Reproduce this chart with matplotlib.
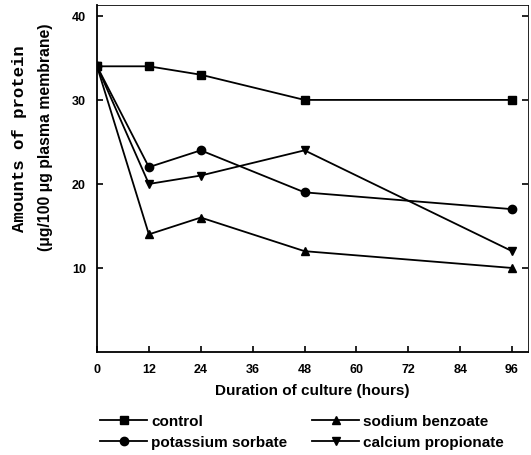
import matplotlib
matplotlib.use("Agg")
import matplotlib.pyplot as plt

# data
hours = [0, 12, 24, 48, 96]
control = [34, 34, 33, 30, 30]
potassium_sorbate = [34, 22, 24, 19, 17]
sodium_benzoate = [34, 14, 16, 12, 10]
calcium_propionate = [34, 20, 21, 24, 12]

xticks = [0, 12, 24, 36, 48, 60, 72, 84, 96]
yticks = [10, 20, 30, 40]

plt.rcParams['font.family'] = ['Liberation Sans', 'DejaVu Sans']
plt.rcParams['font.weight'] = 'bold'

fig = plt.figure(figsize=(5.31, 4.56), dpi=100)
ax = fig.add_axes([0.1827, 0.2259, 0.8117, 0.761])

kw = dict(color='black', lw=1.3, ms=6)
ax.plot(hours, control, marker='s', label='control', **kw)
ax.plot(hours, potassium_sorbate, marker='o', label='potassium sorbate', **kw)
ax.plot(hours, sodium_benzoate, marker='^', label='sodium benzoate', **kw)
ax.plot(hours, calcium_propionate, marker='v', label='calcium propionate', **kw)

ax.set_xlim(0, 99.7)
ax.set_ylim(0, 41.3)
ax.set_xticks(xticks)
ax.set_yticks(yticks)
ax.tick_params(direction='in', length=4, width=1.2, labelsize=9)
ax.tick_params(axis='y', right=True, pad=8)
ax.tick_params(axis='x', pad=8)
for s in ax.spines.values():
    s.set_linewidth(1.3)
ax.spines['top'].set_linewidth(0.6)
ax.spines['right'].set_linewidth(0.6)

ax.set_xlabel('Duration of culture (hours)', fontsize=11, fontweight='bold', labelpad=6)

fig.text(0.037, 0.697, 'Amounts of protein', rotation=90, va='center', ha='center',
         fontsize=12.5, fontweight='bold', family=['Liberation Mono', 'DejaVu Sans Mono'])
fig.text(0.085, 0.70, '(\u03bcg/100 \u03bcg plasma membrane)', rotation=90, va='center',
         ha='center', fontsize=11.3, fontweight='bold')

fig.legend(loc='upper left', bbox_to_anchor=(100 / 531, 1 - 415 / 456), ncol=2,
           frameon=False, fontsize=11, handlelength=3.1, columnspacing=1.6,
           labelspacing=0.48, handletextpad=0.26, borderpad=0, borderaxespad=0)

fig.savefig('out.png', dpi=100)
